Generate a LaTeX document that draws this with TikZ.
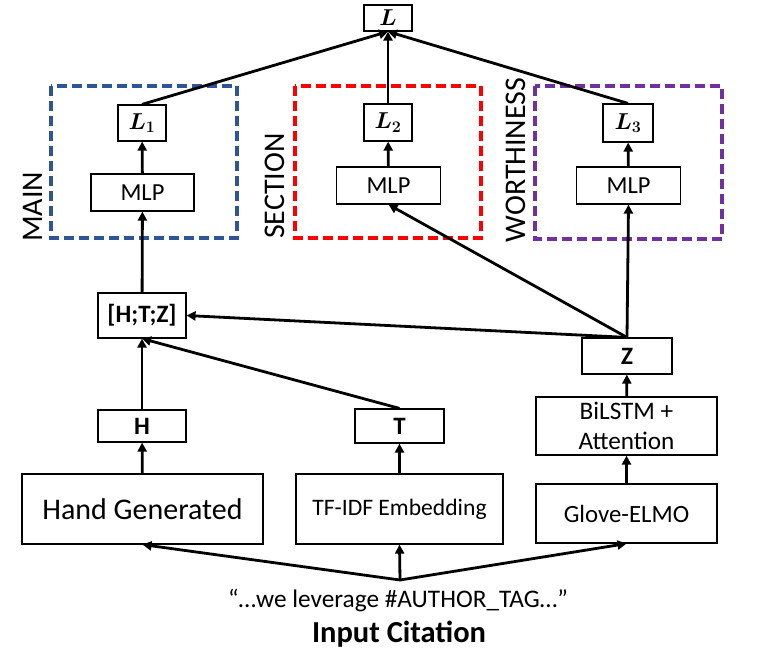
\RequirePackage{fix-cm}
\documentclass[tikz,border=0pt]{standalone}
\usepackage{fontspec}
\setmainfont{Carlito}
\usepackage{bm}
\usetikzlibrary{arrows.meta}
\definecolor{mainblue}{HTML}{2F5597}
\definecolor{secred}{HTML}{FF0000}
\definecolor{worthpurple}{HTML}{7030A0}
\newcommand{\fs}[1]{\fontsize{#1pt}{#1pt}\selectfont}
\tikzset{
  box/.style={draw, line width=1.2pt, inner sep=0pt, align=center, fill=white},
  arr/.style={line width=2.8pt, -{Triangle[length=9pt,width=9pt]}},
  grp/.style={line width=3.2pt, dash pattern=on 10pt off 5pt},
  vlab/.style={rotate=90, font=\fs{30}},
}
\begin{document}
\begin{tikzpicture}[x=1pt,y=-1pt]
\useasboundingbox (0,0) rectangle (763,650);
% group boxes
\draw[grp, mainblue] (51,86) rectangle (237,238);
\draw[grp, secred] (295,86) rectangle (481,238);
\draw[grp, worthpurple] (535,86) rectangle (722,239);
\node[vlab] (mainlab) at (33,207) {MAIN};
\node[vlab] (seclab) at (275,186) {SECTION};
\node[vlab] (worthlab) at (516,160) {WORTHINESS};
% nodes
\node[box, minimum width=48pt, minimum height=26pt, font=\fs{23}] (L) at (388,18) {$\bm{L}$};
\node[box, minimum width=48pt, minimum height=36pt, font=\fs{23}] (L1) at (142,123) {$\bm{L_1}$};
\node[box, minimum width=48pt, minimum height=37pt, font=\fs{23}] (L2) at (388,122.5) {$\bm{L_2}$};
\node[box, minimum width=50pt, minimum height=38pt, font=\fs{23}] (L3) at (628,123) {$\bm{L_3}$};
\node[box, minimum width=103pt, minimum height=37pt, font=\fs{24.5}] (M1) at (142.5,192.5) {MLP};
\node[box, minimum width=104pt, minimum height=37pt, font=\fs{24.5}] (M2) at (388.5,185.5) {MLP};
\node[box, minimum width=104pt, minimum height=37pt, font=\fs{24.5}] (M3) at (628.5,185.5) {MLP};
\node[box, minimum width=88pt, minimum height=45pt, font=\fs{25}\bfseries] (HTZ) at (142,315.5) {[H;T;Z]};
\node[box, minimum width=88pt, minimum height=32pt, font=\fs{25}\bfseries] (H) at (142,426) {H};
\node[box, minimum width=89pt, minimum height=34pt, font=\fs{25}\bfseries] (T) at (399.5,426) {T};
\node[box, minimum width=90pt, minimum height=36pt, font=\fs{25}\bfseries] (Z) at (627,356) {Z};
\node[box, minimum width=181pt, minimum height=58pt, font=\fs{25.2}] (Bi) at (626.5,426) {BiLSTM +\\[5pt]Attention};
\node[box, minimum width=181pt, minimum height=59pt, font=\fs{24.8}] (Glove) at (626.5,513.5) {Glove-ELMO};
\node[box, minimum width=241pt, minimum height=70pt, font=\fs{30}] (Hand) at (142.5,509) {Hand Generated};
\node[box, minimum width=207pt, minimum height=70pt, font=\fs{23.6}] (TF) at (399.5,509) {TF-IDF Embedding};
\node[font=\fs{25.3}] (cite) at (398,601) {“…we leverage \#AUTHOR\_TAG…”};
\node[font=\fs{30.5}\bfseries] (input) at (399,634) {Input Citation};
\coordinate (fork) at (400,580);
% connectors
\draw[arr] (fork) -- (Hand.south);
\draw[arr] (fork) -- (TF.south);
\draw[arr] (fork) -- (Glove.south);
\draw[arr] (Hand) -- (H);
\draw[arr] (TF) -- (T);
\draw[arr] (Glove) -- (Bi);
\draw[arr] (Bi) -- (Z);
\draw[arr] (H) -- (HTZ);
\draw[arr] (T.north) -- (HTZ.south);
\draw[arr] (Z.north) -- (HTZ.east);
\draw[arr] (Z.north) -- (M2.south);
\draw[arr] (Z.north) -- (M3.south);
\draw[arr] (HTZ) -- (M1);
\draw[arr] (M1) -- (L1);
\draw[arr] (M2) -- (L2);
\draw[arr] (M3) -- (L3);
\draw[arr] (L1.north) -- (L.south);
\draw[arr] (L2.north) -- (L.south);
\draw[arr] (L3.north) -- (L.south);
\end{tikzpicture}
\end{document}
